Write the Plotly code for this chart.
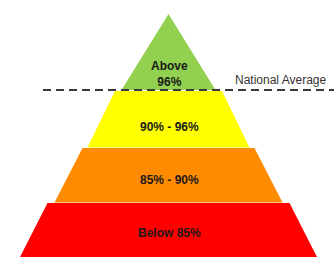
import plotly.graph_objects as go

# Data
levels = ["Above<br>96%", "90% - 96%", "85% - 90%", "Below 85%"]
thresholds = [96, 90, 85]
colors = ["#92D050", "#FFFF00", "#FF8C00", "#FF0000"]
reference_label = "National Average"

# Geometry (pixel space, y down)
cx = 168.5
bands = [
    # (top_y, bottom_y, top_half, bottom_half)
    (14, 90, 0, 47),
    (91, 147.5, 53.5, 81),
    (148, 202.5, 86, 114),
    (203, 258, 121, 149),
]
label_y = [73.5, 127, 180, 233]

fig = go.Figure()
for (ty, by, th, bh), col in zip(bands, colors):
    xs = [cx - th, cx + th, cx + bh, cx - bh, cx - th]
    ys = [ty, ty, by, by, ty]
    fig.add_trace(go.Scatter(x=xs, y=ys, fill="toself", fillcolor=col,
                             line=dict(width=0, color=col), mode="lines",
                             hoverinfo="skip", showlegend=False))

for lab, yy in zip(levels, label_y):
    fig.add_annotation(x=cx + 1, y=yy, text="<b>" + lab + "</b>", showarrow=False,
                       font=dict(family="Liberation Sans, Arial", size=12, color="#1a1a1a"),
                       xanchor="center", yanchor="middle")

fig.add_shape(type="line", x0=43, x1=334, y0=90, y1=90,
              line=dict(color="#3a3a3a", width=2, dash="8px,5px"), layer="above")
fig.add_annotation(x=281, y=80, text=reference_label, showarrow=False,
                   font=dict(family="Liberation Sans, Arial", size=12, color="#333333"),
                   xanchor="center", yanchor="middle")

fig.update_layout(
    width=334, height=257,
    margin=dict(l=0, r=0, t=0, b=0),
    paper_bgcolor="white", plot_bgcolor="white",
    xaxis=dict(range=[0, 334], visible=False, fixedrange=True),
    yaxis=dict(range=[257, 0], visible=False, fixedrange=True),
)
fig.write_html("out.html", config={"displayModeBar": False},
               post_script="document.body.style.margin='0';document.body.style.padding='0';document.body.style.overflow='hidden';")
